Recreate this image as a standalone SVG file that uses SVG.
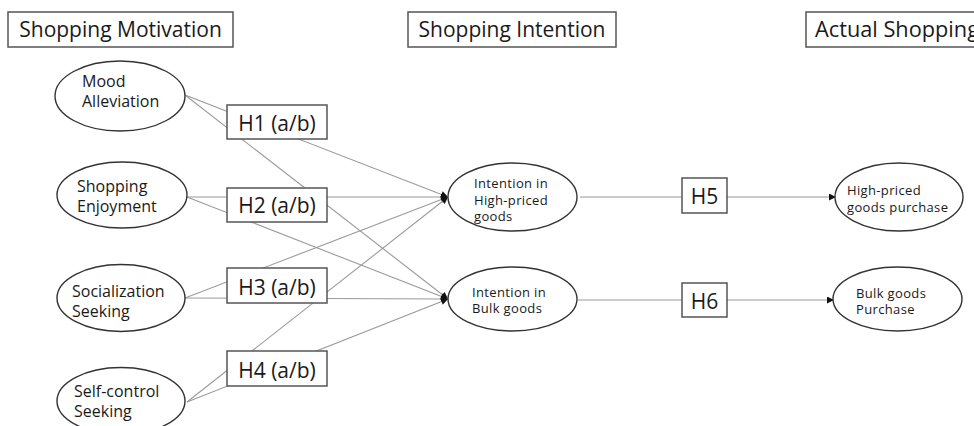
<svg xmlns="http://www.w3.org/2000/svg" width="974" height="426" viewBox="0 0 974 426">
<style>
text{font-family:"Open Sans","Noto Sans","Liberation Sans",sans-serif;fill:#1a1a1a}
.title{font-size:21px}
.hyp{font-size:21px;text-anchor:middle}
.lbl{font-size:16px}
.sm{font-size:13px;letter-spacing:0.35px}
.box{fill:#fff;stroke:#555;stroke-width:1.5}
.ell{fill:#fff;stroke:#333;stroke-width:1.4}
.con{stroke:#9a9a9a;stroke-width:1.1;fill:none}
.arr{marker-end:url(#ah)}
</style>
<defs>
<marker id="ah" viewBox="0 0 10 10" refX="10" refY="5" markerWidth="8" markerHeight="7" markerUnits="userSpaceOnUse" orient="auto">
<path d="M0,0 L10,5 L0,10 z" fill="#111"/>
</marker>
</defs>
<rect width="974" height="426" fill="#fff"/>

<g id="headers">
<g id="hdr-motivation"><rect class="box" x="8" y="12" width="225" height="35"/><text class="title" x="120.5" y="37" text-anchor="middle">Shopping Motivation</text></g>
<g id="hdr-intention"><rect class="box" x="408" y="12" width="208" height="35"/><text class="title" x="512" y="37" text-anchor="middle">Shopping Intention</text></g>
<g id="hdr-actual"><rect class="box" x="806" y="12" width="190" height="35"/><text class="title" x="815" y="37" textLength="164" lengthAdjust="spacingAndGlyphs">Actual Shopping</text></g>
</g>

<g id="connectors">
<line class="con arr" x1="185" y1="95" x2="448" y2="197"/>
<line class="con arr" x1="185" y1="95" x2="448" y2="299"/>
<line class="con arr" x1="187" y1="197" x2="448" y2="197"/>
<line class="con arr" x1="187" y1="197" x2="448" y2="299"/>
<line class="con arr" x1="185" y1="298" x2="448" y2="197"/>
<line class="con arr" x1="185" y1="298" x2="448" y2="299"/>
<line class="con arr" x1="187" y1="402" x2="448" y2="197"/>
<line class="con arr" x1="187" y1="402" x2="448" y2="299"/>
<line class="con arr" x1="580" y1="197" x2="836" y2="197"/>
<line class="con arr" x1="578" y1="300" x2="834" y2="300"/>
</g>

<g id="mood"><ellipse class="ell" cx="120" cy="96" rx="65" ry="35"/><text class="lbl" x="82" y="87">Mood</text><text class="lbl" x="82" y="107">Alleviation</text></g>
<g id="enjoyment"><ellipse class="ell" cx="122" cy="195" rx="65" ry="33"/><text class="lbl" x="77" y="192">Shopping</text><text class="lbl" x="77" y="212">Enjoyment</text></g>
<g id="socialization"><ellipse class="ell" cx="121" cy="298" rx="64" ry="33.5"/><text class="lbl" x="72" y="297">Socialization</text><text class="lbl" x="72" y="317">Seeking</text></g>
<g id="selfcontrol"><ellipse class="ell" cx="121" cy="401" rx="64" ry="33.5"/><text class="lbl" x="74" y="397">Self-control</text><text class="lbl" x="74" y="417">Seeking</text></g>

<g id="h1"><rect class="box" x="227" y="105" width="100" height="34"/><text class="hyp" x="277" y="131">H1 (a/b)</text></g>
<g id="h2"><rect class="box" x="227" y="188" width="100" height="34"/><text class="hyp" x="277" y="213">H2 (a/b)</text></g>
<g id="h3"><rect class="box" x="227" y="268" width="100" height="35"/><text class="hyp" x="277" y="295">H3 (a/b)</text></g>
<g id="h4"><rect class="box" x="227" y="351" width="100" height="35"/><text class="hyp" x="277" y="378">H4 (a/b)</text></g>

<g id="int-high"><ellipse class="ell" cx="512.5" cy="197" rx="64.5" ry="34"/><text class="sm" x="474" y="187.5">Intention in</text><text class="sm" x="474" y="204.5">High-priced</text><text class="sm" x="474" y="221">goods</text></g>
<g id="int-bulk"><ellipse class="ell" cx="512.5" cy="299" rx="64.5" ry="32"/><text class="sm" x="472" y="296.5">Intention in</text><text class="sm" x="472" y="313">Bulk goods</text></g>

<g id="h5"><rect class="box" x="682" y="178" width="45" height="35"/><text class="hyp" x="704.5" y="204">H5</text></g>
<g id="h6"><rect class="box" x="682" y="283" width="45" height="34"/><text class="hyp" x="704.5" y="309">H6</text></g>

<g id="buy-high"><ellipse class="ell" cx="899" cy="197" rx="64" ry="34"/><text class="sm" x="847" y="195">High-priced</text><text class="sm" x="847" y="212">goods purchase</text></g>
<g id="buy-bulk"><ellipse class="ell" cx="897.5" cy="299" rx="64.5" ry="32"/><text class="sm" x="856" y="297.5">Bulk goods</text><text class="sm" x="856" y="314">Purchase</text></g>
</svg>
